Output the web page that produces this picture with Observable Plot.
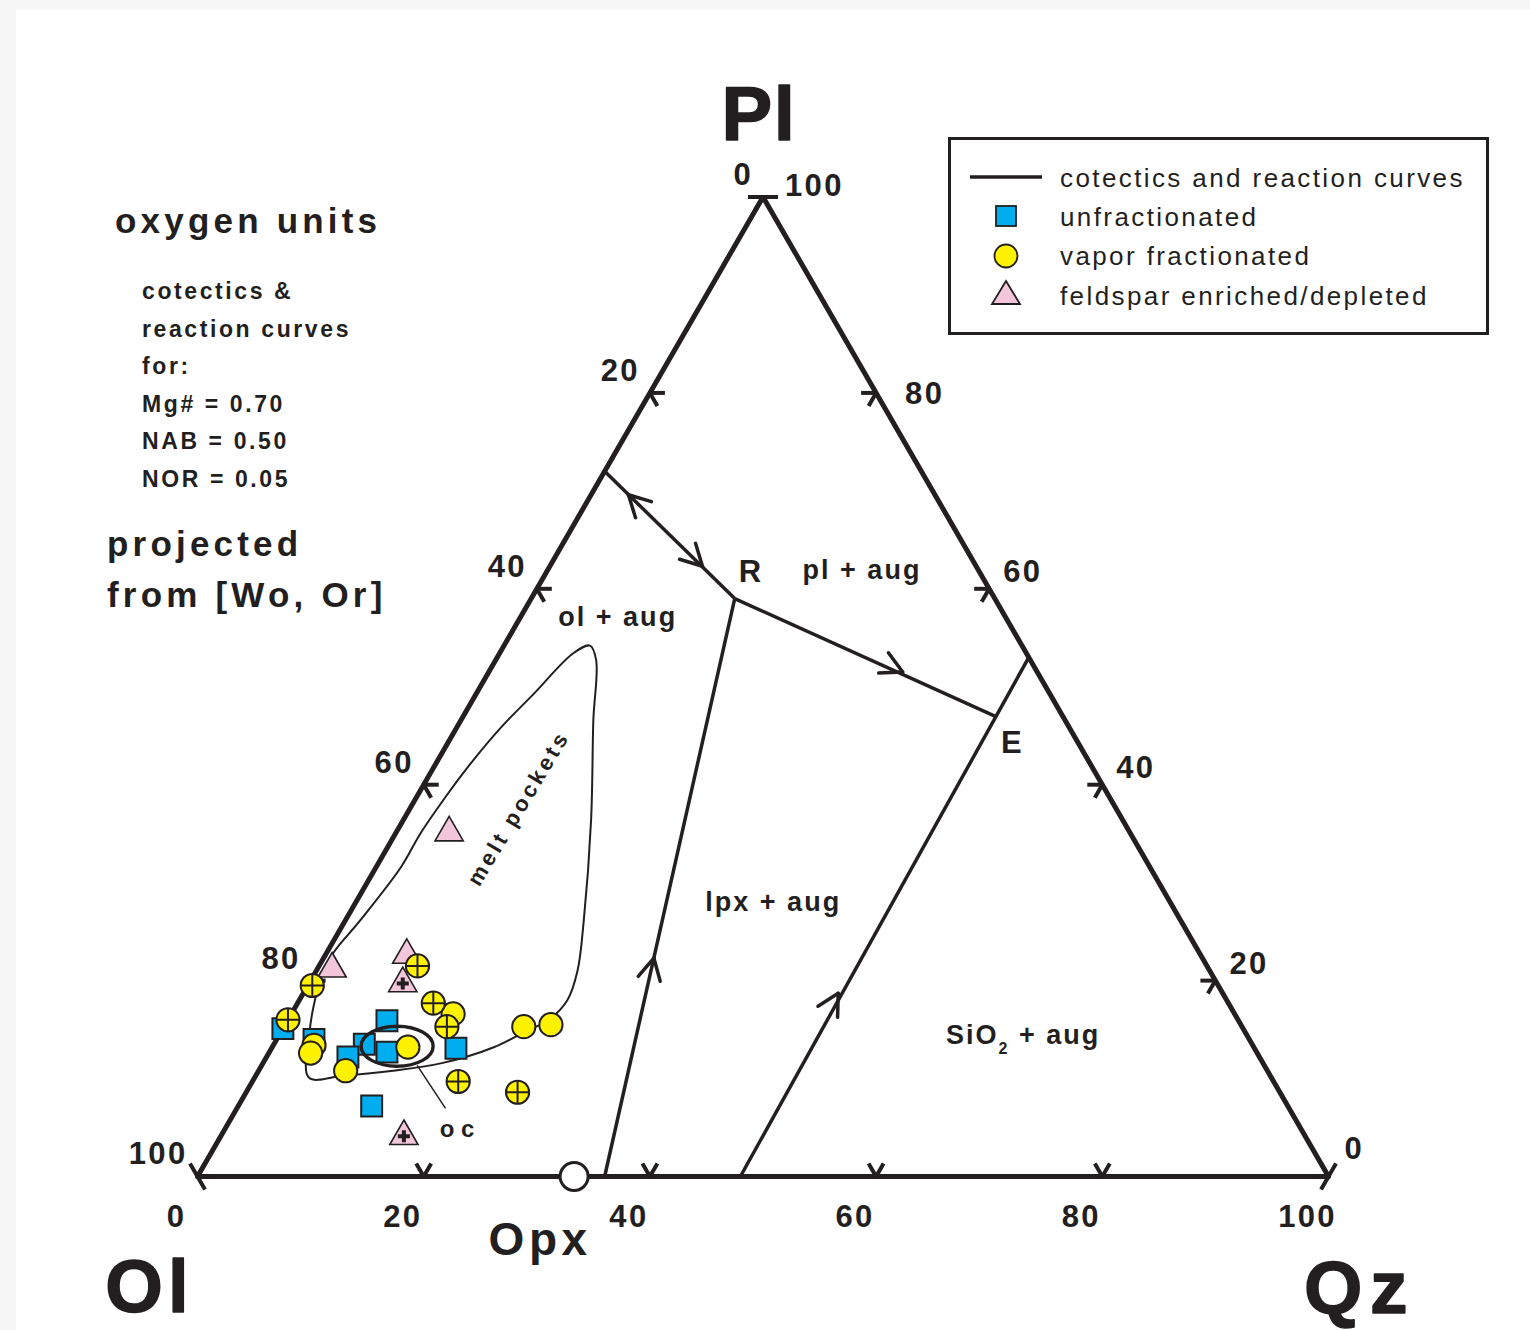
<!DOCTYPE html>
<html>
<head>
<meta charset="utf-8">
<script src="https://cdn.jsdelivr.net/npm/d3@7"></script>
<script src="https://cdn.jsdelivr.net/npm/@observablehq/plot@0.6"></script>
<style>
  html, body { margin: 0; padding: 0; background: #f7f7f7; overflow: hidden; }
  #wrap { position: relative; width: 1530px; height: 1330px; }
  #paper { position: absolute; left: 16px; top: 10px; right: 0; bottom: 0; background: #ffffff; }
  #chart { position: absolute; left: 0; top: 0; }
  #overlay { position: absolute; left: 0; top: 0; }
  #overlay text { font-family: "Liberation Sans", Arial, Helvetica, sans-serif; fill: #231f20; }
</style>
</head>
<body>
<div id="wrap">
  <div id="paper"></div>
  <div id="chart"></div>
  <svg id="overlay" width="1530" height="1330">
    <!-- notes -->
    <text x="115" y="233" font-size="35" font-weight="bold" letter-spacing="4.2">oxygen units</text>
    <g font-size="23" font-weight="bold" letter-spacing="2.6">
      <text x="142" y="299">cotectics &amp;</text>
      <text x="142" y="337">reaction curves</text>
      <text x="142" y="374">for:</text>
      <text x="142" y="412">Mg# = 0.70</text>
      <text x="142" y="449">NAB = 0.50</text>
      <text x="142" y="487">NOR = 0.05</text>
    </g>
    <text x="107" y="556" font-size="35" font-weight="bold" letter-spacing="4.2">projected</text>
    <text x="107" y="607" font-size="35" font-weight="bold" letter-spacing="4.2">from [Wo, Or]</text>
    <!-- legend -->
    <rect x="949.5" y="138.5" width="538" height="195" fill="#ffffff" stroke="#231f20" stroke-width="3"></rect>
    <line x1="970" x2="1042" y1="177" y2="177" stroke="#231f20" stroke-width="3.5"></line>
    <rect x="996" y="206" width="20" height="20" fill="#00aeef" stroke="#231f20" stroke-width="1.8"></rect>
    <circle cx="1006" cy="256" r="11.5" fill="#fff200" stroke="#231f20" stroke-width="1.8"></circle>
    <path d="M1006,281 L1020,304 L992,304 Z" fill="#f3c6db" stroke="#231f20" stroke-width="1.8"></path>
    <g font-size="26" letter-spacing="2.4">
      <text x="1060" y="187">cotectics and reaction curves</text>
      <text x="1060" y="226">unfractionated</text>
      <text x="1060" y="265">vapor fractionated</text>
      <text x="1060" y="305">feldspar enriched/depleted</text>
    </g>
  </svg>
</div>
<script>
// ---------------- data (ternary, oxygen-unit %, given as [Qz, Pl]; Ol = 100 - Qz - Pl) ----------------
const unfractionated = [[0, 15.1], [3.3, 14.0], [8.8, 15.9], [8.0, 13.5], [7.2, 12.2], [10.4, 12.7], [16.3, 13.1], [11.8, 7.2]];
const vaporFractionated = [[14.3, 16.6], [3.6, 13.4], [3.7, 12.6], [7.7, 10.8], [12.0, 13.2], [21.2, 15.3], [23.5, 15.5]];
const vaporFractionatedPlus = [[0.4, 19.5], [0, 16.0], [8.7, 21.5], [12.0, 17.7], [14.4, 15.3], [18.2, 9.7], [24.0, 8.6]];
const feldsparEnriched = [[1.3, 21.2], [7.2, 22.6], [4.7, 35.1]];
const feldsparEnrichedPlus = [[8.3, 19.7], [16.2, 4.1]];

// ternary frame
const vertexOl = [0, 0], vertexQz = [100, 0], vertexPl = [0, 100];
const edgeTicks = [0, 20, 40, 60, 80, 100];

// cotectics & reaction curves
const curveOlPl = [[0, 72], [18, 59]];
const curveRE = [[18, 59], [47, 47]];
const curveOpx = [[18, 59], [36, 0]];
const curveSilica = [[47, 53], [48, 0]];
const arrowTips = [[3.3, 69.6], [13.5, 62.3], [36.6, 51.5], [29.2, 22.3], [47.3, 18.7]];
const arrowToward = [[0, 72], [18, 59], [47, 47], [18, 59], [47, 47]];
const opxPoint = [[33.3, 0]];

// melt pockets field, oc field
const meltPockets = [[7.6, 54.2], [6.5, 53.4], [5.1, 49.3], [3.9, 45.8], [3.0, 41.8], [2.6, 39.1], [2.2, 35.0], [2.2, 31.6],
  [1.3, 26.1], [0.6, 22.9], [0.7, 20.7], [1.6, 17.3], [2.6, 14.6], [4.8, 10.1], [7.8, 10.3], [11.9, 10.8], [15.9, 11.6],
  [19.6, 13.2], [21.7, 14.9], [23.0, 15.9], [23.7, 18.0], [23.1, 21.0], [21.1, 26.1], [16.6, 36.4], [11.7, 46.6], [8.9, 52.7]];
const ocCenter = [[11.0, 13.3]];
const ocLeader = [[13.8, 11.3], [18.4, 7.0]];

// labels
const fieldLabels = ["ol + aug", "pl + aug", "lpx + aug", "SiO2 + aug"];
const fieldLabelPos = [[8.6, 57.1], [27.8, 61.9], [36.9, 28.0], [65.8, 14.4]];
const pointLabels = ["R", "E"];
const pointLabelPos = [[18.1, 61.7], [49.9, 44.3]];
const meltLabelPos = [[9.6, 37.6]];
const ocLabelPos = [[20.85, 4.8]];

// ---------------- geometry ----------------
const INK = "#231f20";
const FONT = "Liberation Sans, Arial, Helvetica, sans-serif";
const W = 1530, H = 1330;
const K = 11.31;            // pixels per ternary unit
const X0 = 197, Y0 = 1176;  // pixel position of the Ol vertex
const S3 = Math.sqrt(3) / 2;
const deg = Math.PI / 180;
const xy = ([qz, pl]) => ({x: qz + pl / 2, y: pl * S3});
const T = arr => arr.map(xy);

// tick chevrons (arms parallel to the two other edges)
const armLen = 15 / K;
const tickSegs = [];
edgeTicks.forEach(v => {
  [[xy([v, 0]), [60, 120]], [xy([0, 100 - v]), [0, -60]], [xy([100 - v, v]), [180, 240]]].forEach(([p, angs]) => {
    angs.forEach(a => tickSegs.push({x1: p.x, y1: p.y, x2: p.x + armLen * Math.cos(a * deg), y2: p.y + armLen * Math.sin(a * deg)}));
  });
});

// label placement offsets (pixels) for the right-edge scale
const rightNudge = {100: [22, -11], 80: [29, 1], 0: [16, -27]};
const rightLabels = edgeTicks.map(v => {
  const p = xy([100 - v, v]);
  const [dx, dy] = rightNudge[v] || [14, -17];
  return {x: p.x + dx / K, y: p.y - dy / K, t: String(v)};
});

// arrowheads on the curves
const headLen = 24 / K, headHalf = 28 * deg;
const heads = [];
arrowTips.forEach((t, i) => {
  const p = xy(t), g = xy(arrowToward[i]);
  const bx = p.x - g.x, by = p.y - g.y, n = Math.hypot(bx, by);
  const ux = bx / n, uy = by / n;
  [-headHalf, headHalf].forEach(h => {
    const c = Math.cos(h), s = Math.sin(h);
    heads.push({x1: p.x, y1: p.y, x2: p.x + headLen * (ux * c - uy * s), y2: p.y + headLen * (ux * s + uy * c)});
  });
});

// custom symbols
const plusLines = {draw(ctx, size) { const r = Math.sqrt(size / Math.PI); ctx.moveTo(-r, 0); ctx.lineTo(r, 0); ctx.moveTo(0, -r); ctx.lineTo(0, r); }};
const ellipseSym = {draw(ctx, size) {
  const ry = Math.sqrt(size / Math.PI), rx = ry * 1.8, k = 0.5523;
  ctx.moveTo(rx, 0);
  ctx.bezierCurveTo(rx, ry * k, rx * k, ry, 0, ry);
  ctx.bezierCurveTo(-rx * k, ry, -rx, ry * k, -rx, 0);
  ctx.bezierCurveTo(-rx, -ry * k, -rx * k, -ry, 0, -ry);
  ctx.bezierCurveTo(rx * k, -ry, rx, -ry * k, rx, 0);
  ctx.closePath();
}};

const lineOpts = {x: "x", y: "y", stroke: INK, strokeWidth: 3.5, strokeLinecap: "butt"};
const txt = (o) => Object.assign({x: "x", y: "y", fill: INK, fontFamily: FONT, fontWeight: "bold"}, o);

const plot = Plot.plot({
  width: W, height: H, margin: 0,
  x: {domain: [-X0 / K, (W - X0) / K], axis: null},
  y: {domain: [(Y0 - H) / K, Y0 / K], axis: null},
  style: {background: "transparent", overflow: "visible"},
  marks: [
    // frame
    Plot.line(T([vertexOl, vertexQz, vertexPl, vertexOl, vertexQz]), {x: "x", y: "y", stroke: INK, strokeWidth: 5, strokeLinejoin: "miter"}),
    Plot.link(tickSegs, {x1: "x1", y1: "y1", x2: "x2", y2: "y2", stroke: INK, strokeWidth: 4}),
    // curves
    Plot.line(T(curveOlPl), lineOpts),
    Plot.line(T(curveRE), lineOpts),
    Plot.line(T(curveOpx), lineOpts),
    Plot.line(T(curveSilica), lineOpts),
    Plot.link(heads, {x1: "x1", y1: "y1", x2: "x2", y2: "y2", stroke: INK, strokeWidth: 3.5, strokeLinecap: "round"}),
    Plot.dot(T(opxPoint), {x: "x", y: "y", r: 14, fill: "white", stroke: INK, strokeWidth: 3}),
    // fields
    Plot.line(T(meltPockets), {x: "x", y: "y", curve: "catmull-rom-closed", stroke: INK, strokeWidth: 2}),
    Plot.line(T(ocLeader), {x: "x", y: "y", stroke: INK, strokeWidth: 1.5}),
    // samples
    Plot.dot(T(feldsparEnriched.concat(feldsparEnrichedPlus)), {x: "x", y: "y", symbol: "triangle", r: 10.5, fill: "#f3c6db", stroke: INK, strokeWidth: 1.6}),
    Plot.dot(T(feldsparEnrichedPlus), {x: "x", y: "y", symbol: plusLines, r: 6, fill: "none", stroke: INK, strokeWidth: 4}),
    Plot.dot(T(unfractionated), {x: "x", y: "y", symbol: "square", r: 11.8, fill: "#00aeef", stroke: INK, strokeWidth: 2}),
    Plot.dot(T(ocCenter), {x: "x", y: "y", symbol: ellipseSym, r: 20, fill: "none", stroke: INK, strokeWidth: 3.4}),
    Plot.dot(T(vaporFractionated.concat(vaporFractionatedPlus)), {x: "x", y: "y", symbol: "circle", r: 11.6, fill: "#fff200", stroke: INK, strokeWidth: 2}),
    Plot.dot(T(vaporFractionatedPlus), {x: "x", y: "y", symbol: plusLines, r: 11.6, fill: "none", stroke: INK, strokeWidth: 2}),
    // tick labels
    Plot.text(edgeTicks.map(v => ({...xy([v, 0]), t: String(v)})), txt({text: "t", fontSize: 31, dx: -21, dy: 41})),
    Plot.text(edgeTicks.map(v => ({...xy([0, 100 - v]), t: String(v)})), txt({text: "t", fontSize: 31, textAnchor: "end", dx: -10, dy: -22})),
    Plot.text(rightLabels, txt({text: "t", fontSize: 31, textAnchor: "start"})),
    // vertex labels
    Plot.text(T([vertexPl]), txt({text: () => "Pl", fontSize: 76, dx: -4, dy: -81, stroke: INK, strokeWidth: 1.5})),
    Plot.text(T([vertexOl]), txt({text: () => "Ol", fontSize: 74, dx: -48, dy: 112, stroke: INK, strokeWidth: 1.5})),
    Plot.text(T([vertexQz]), txt({text: () => "Qz", fontSize: 75, dx: 31, dy: 112, stroke: INK, strokeWidth: 1.5})),
    Plot.text(T(opxPoint), txt({text: () => "Opx", fontSize: 46, dx: -34, dy: 64})),
    // field labels
    Plot.text(fieldLabels.map((t, i) => ({...xy(fieldLabelPos[i]), t})), txt({text: "t", fontSize: 27})),
    Plot.text(pointLabels.map((t, i) => ({...xy(pointLabelPos[i]), t})), txt({text: "t", fontSize: 31})),
    Plot.text(T(meltLabelPos), txt({text: () => "melt pockets", fontSize: 22, rotate: -59})),
    Plot.text(T(ocLabelPos), txt({text: () => "oc", fontSize: 24}))
  ]
});

document.getElementById("chart").appendChild(plot);

// typographic touches: letter spacing and the SiO2 subscript
const spacing = {"oc": "0.28em", "melt pockets": "0.16em", "Pl": "0.02em", "Ol": "0.07em", "Qz": "0.1em", "Opx": "0.1em"};
d3.select(plot).selectAll("text").each(function () {
  const t = this.textContent;
  this.style.letterSpacing = spacing[t] || "0.075em";
  this.style.whiteSpace = "pre";
  if (t === "SiO2 + aug") {
    this.textContent = "";
    const s = d3.select(this);
    s.append("tspan").text("SiO");
    s.append("tspan").attr("font-size", "16").attr("dy", "10").text("2");
    s.append("tspan").attr("dy", "-10").text(" + aug");
  }
});
</script>
</body>
</html>
